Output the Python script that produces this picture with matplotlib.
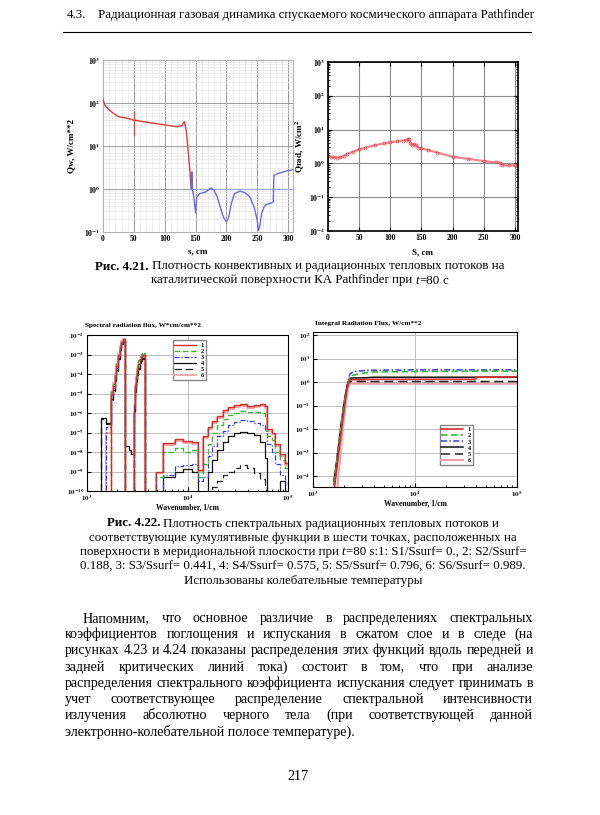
import matplotlib
matplotlib.use("Agg")
import numpy as np
import matplotlib.pyplot as plt
from matplotlib.lines import Line2D
from matplotlib.ticker import FixedLocator, NullFormatter, LogLocator

# --- PAGE GEOMETRY (pixels) ---
W_PX, H_PX = 600, 815
plt.rcParams['font.family'] = ['Liberation Serif', 'DejaVu Serif']
plt.rcParams['mathtext.fontset'] = 'stix'

# --- DATA: Fig 4.21 left, convective heat flux ---
s_conv = [0, 3, 8, 15, 25, 40, 50, 75, 100, 120, 128, 132, 135, 138, 141, 143]
qw_conv = [121, 89, 74, 60, 48, 44, 40, 35, 31, 28, 30, 37, 23, 8, 2.5, 1.05]
s_low = [143, 144, 145, 147, 150, 152, 157, 167, 175, 180, 185, 190, 195, 200, 204, 208, 213,
         222, 230, 238, 245, 250, 252, 254, 257, 261, 265, 273, 276, 277, 287, 298, 308]
qw_low = [1.0, 2.5, 0.93, 0.7, 0.28, 0.65, 0.78, 0.855, 1.06, 0.93, 0.66, 0.38, 0.224, 0.171, 0.224,
          0.457, 0.78, 0.887, 0.826, 0.655, 0.38, 0.187, 0.109, 0.131, 0.267, 0.38, 0.44, 0.474,
          0.5, 2.09, 2.37, 2.64, 2.83]
mark_s = 50
mark_range = [17, 65]
ref_level = 1.0
ref_from = 147

# --- DATA: Fig 4.21 right, radiative heat flux ---
s_rad = [0, 5, 10, 15, 20, 25, 30, 40, 50, 60, 75, 90, 100, 110, 120, 125, 128, 130, 132, 135,
         138, 142, 145, 150, 160, 175, 200, 225, 250, 270, 276, 280, 290, 300, 305]
q_rad = [1.64, 1.57, 1.5, 1.48, 1.5, 1.64, 1.88, 2.2, 2.58, 2.89, 3.46, 3.88, 4.25, 4.45, 4.75,
         4.86, 5.2, 5.1, 4.06, 3.55, 3.7, 3.4, 2.95, 2.76, 2.5, 2.1, 1.57, 1.37, 1.17, 1.07, 1.05,
         0.89, 0.87, 0.87, 0.93]

# --- DATA: Fig 4.22 left, spectral flux (log10), step histogram ---
F = -11  # below the axis floor
wn_spec = [1000, 1390, 1560, 1750, 1820, 1890, 1960, 2040, 2120, 2200, 2290, 2380, 2600, 2750,
           2920, 3000, 3080, 3160, 3240, 3330, 3420, 3520, 3620, 3760, 4900, 5740, 7500, 9100,
           11000, 12800, 14400, 16100, 17400, 19600, 22800, 25500, 28700, 33400, 39000, 45400,
           53000, 59400, 61700, 69200, 74800, 83800, 94000, 100000]
spec_1 = [F, F, F, -5.0, -4.6, -4.1, -3.6, -3.0, -2.6, -2.35, -2.2, F, F, F, -5.6, -4.6, -4.2,
          -3.8, -3.5, -3.3, -3.15, -3.1, -3.05, F, -9.0, -7.55, -7.35, -7.45, -7.5, -8.9, -7.2,
          -6.7, -6.4, -6.15, -5.85, -5.7, -5.6, -5.55, -5.65, -5.6, -5.55, -5.65, -6.8, -7.0,
          -7.6, -8.1, -8.55, -8.55]
spec_2 = [F, F, F, -4.9, -4.5, -4.0, -3.5, -3.0, -2.6, -2.35, -2.25, F, F, F, -5.4, -4.5, -4.0,
          -3.6, -3.3, -3.1, -2.95, -2.85, -2.9, F, -9.3, -8.0, -7.8, -8.0, -7.9, -9.3, -8.6,
          -7.6, -7.0, -6.6, -6.3, -6.1, -6.0, -5.9, -5.95, -5.95, -6.0, -6.2, -7.2, -7.4, -8.0,
          -8.4, -8.8, -8.8]
spec_3 = [F, F, -6.7, -5.1, -4.7, -4.2, -3.7, -3.1, -2.7, -2.4, -2.3, F, F, F, -5.8, -4.7, -4.2,
          -3.8, -3.5, -3.25, -3.1, -3.0, -3.0, F, F, -9.2, -8.7, -8.65, -8.6, -9.5, -9.3, -8.2,
          -7.7, -7.2, -6.9, -6.6, -6.45, -6.35, -6.4, -6.5, -6.6, -6.9, -7.6, -8.0, -8.6, -9.2,
          -9.6, -9.6]
spec_4 = [F, -6.27, -6.5, -5.3, -4.8, -4.3, -3.8, -3.2, -2.7, -2.45, -2.3, -7.7, -7.9, -8.1,
          -5.9, -4.9, -4.4, -4.0, -3.7, -3.45, -3.3, -3.2, -3.2, F, F, -9.3, -9.0, -8.85, -9.0,
          F, F, -9.0, -8.4, -7.9, -7.5, -7.2, -7.05, -6.95, -7.0, -7.15, -7.5, -8.3, F, F, F,
          -9.5, F, F]
spec_5 = [F, -6.3, -6.55, -5.35, -4.85, -4.35, -3.85, -3.25, -2.75, -2.5, -2.35, F, F, F, -6.0,
          -5.0, -4.5, -4.05, -3.75, -3.5, -3.35, -3.25, -3.25, F, F, F, F, F, F, F, F, F, -9.8,
          -9.5, -9.2, -9.0, -8.8, -8.65, -8.8, -9.1, -9.4, -9.8, F, F, F, F, F, F]
spec_6 = [F, F, -7.0, -4.85, -4.45, -4.0, -3.5, -2.95, -2.55, -2.3, -2.2, F, F, F, -6.0, -4.55,
          -4.15, -3.75, -3.45, -3.25, -3.1, -3.05, -3.05, F, -9.1, -7.65, -7.45, -7.55, -7.6,
          -9.0, -7.3, -6.8, -6.5, -6.25, -5.95, -5.8, -5.7, -5.65, -5.75, -5.7, -5.65, -5.75,
          -6.9, -7.1, -7.7, -8.2, -8.65, -8.65]

# --- DATA: Fig 4.22 right, cumulative flux ---
wn_cum = [1600, 1700, 1800, 1900, 2000, 2100, 2200, 2300, 2500, 3000, 3500, 4000, 10000, 39000,
          40000, 100000]
cum_1 = [2e-5, 1.5e-4, 1.2e-3, 9e-3, 0.05, 0.25, 0.8, 1.25, 1.25, 1.25, 1.28, 1.3, 1.3, 1.3, 1.6, 1.65]
cum_2 = [5e-5, 3e-4, 2.5e-3, 0.02, 0.1, 0.3, 0.9, 1.7, 2.0, 2.3, 2.6, 2.7, 2.8, 2.9, 2.9, 2.9]
cum_3 = [4e-5, 2.5e-4, 2e-3, 0.015, 0.08, 0.3, 1.0, 2.2, 2.8, 3.0, 3.2, 3.2, 3.3, 3.3, 3.3, 3.3]
cum_4 = [6e-5, 4e-4, 3e-3, 0.02, 0.1, 0.4, 1.0, 1.45, 1.5, 1.5, 1.55, 1.6, 1.6, 1.6, 1.6, 1.6]
cum_5 = [5e-5, 3e-4, 2.5e-3, 0.018, 0.09, 0.3, 0.8, 1.05, 1.05, 1.05, 1.05, 1.05, 1.05, 1.05, 1.05, 1.05]
cum_6 = [1e-6, 1e-5, 2e-4, 2e-3, 0.02, 0.12, 0.5, 0.85, 0.85, 0.85, 0.85, 0.85, 0.85, 0.85, 0.85, 0.85]
series_names = ['1', '2', '3', '4', '5', '6']

# line looks for the six points (pink drawn first so it sits behind)
LOOKS = {
    '1': dict(color='#d42a2a', ls='-', lw=1.0, z=6),
    '2': dict(color='#33bb33', ls=(0, (4, 2)), lw=1.0, z=5),
    '3': dict(color='#3a3ae0', ls=(0, (4, 1.5, 1, 1.5)), lw=0.9, z=4),
    '4': dict(color='#111111', ls='-', lw=0.9, z=3),
    '5': dict(color='#222222', ls=(0, (6, 3)), lw=0.9, z=2),
    '6': dict(color='#f2a0a8', ls='-', lw=1.3, z=1),
}

# --- HELPERS ---
fig = plt.figure(figsize=(W_PX / 100, H_PX / 100), dpi=100)
renderer = fig.canvas.get_renderer()

def fx(x): return x / W_PX
def fy(y): return 1 - y / H_PX
def box(x0, y0, x1, y1): return [fx(x0), fy(y1), (x1 - x0) / W_PX, (y1 - y0) / H_PX]

def dec_labels(exps):
    return [r'$\mathbf{10^{%d}}$' % e for e in exps]

BOLD = dict(fontweight='bold')
IT = dict(fontstyle='italic')

def place_line(words, y, size, x0=None, x1=None, center=None):
    # words: strings (may hold spaces) or lists of (text, style) glued together
    items = []
    for w in words:
        pieces = w if isinstance(w, list) else [(w, {})]
        items.append([fig.text(0, fy(y), s, fontsize=size, va='baseline', **st) for s, st in pieces])
    wid = [[a.get_window_extent(renderer=renderer).width for a in arts] for arts in items]
    total = sum(sum(ws) for ws in wid)
    if x1 is not None and len(items) > 1:
        gap = (x1 - x0 - total) / (len(items) - 1)
    else:
        gap = size * 100 / 72 * 0.25
    x = x0 if center is None else center - (total + gap * (len(items) - 1)) / 2
    for arts, ws in zip(items, wid):
        for a, w in zip(arts, ws):
            a.set_x(fx(x))
            x += w
        x += gap

def small_legend(ax, anchor):
    leg = ax.legend(loc='upper left', bbox_to_anchor=anchor, fontsize=4.5, handlelength=3.4,
                    labelspacing=0.12, borderpad=0.3, handletextpad=0.8, frameon=True,
                    fancybox=False, edgecolor='#888888', framealpha=1)
    for t in leg.get_texts():
        t.set_fontweight('bold')
    return leg

# --- HEADER ---
place_line(["4.3."], 18, 9.3, x0=67)
place_line(["Радиационная газовая динамика спускаемого космического аппарата Pathfinder"], 18, 9.3, x0=98)
fig.add_artist(Line2D([fx(63), fx(531)], [fy(31.5), fy(31.5)], color='black', lw=0.8))

# --- FIG 4.21 LEFT ---
ax1 = fig.add_axes(box(103, 60, 293, 232))
ax1.set_yscale('log')
ax1.plot(s_conv, qw_conv, color='#e03a3a', lw=1.0, zorder=4)
ax1.plot(s_low, qw_low, color='#6a6ae8', lw=1.0, zorder=4)
ax1.vlines(mark_s, mark_range[0], mark_range[1], color='#e03a3a', lw=0.9, zorder=4)
ax1.plot([ref_from, 308], [ref_level, ref_level], color='#9fa6ee', lw=0.9, zorder=3)
ax1.set_xlim(0, 308)
ax1.set_ylim(0.1, 1000)
ax1.set_xticks(range(0, 301, 50))
ax1.xaxis.set_minor_locator(FixedLocator(range(0, 309, 10)))
ax1.set_yticks([0.1, 1, 10, 100, 1000])
ax1.set_yticklabels(dec_labels([-1, 0, 1, 2, 3]))
ax1.yaxis.set_minor_locator(LogLocator(subs=np.arange(2, 10)))
ax1.yaxis.set_minor_formatter(NullFormatter())
ax1.grid(which='major', color='#9a9a9a', lw=0.7)
ax1.grid(which='minor', color='#e6e6e6', lw=0.5)
for sp in ax1.spines.values():
    sp.set_color('#b0b0b0')
ax1.tick_params(which='both', direction='in', length=0, labelsize=5.5, pad=2)
for lab in ax1.get_xticklabels():
    lab.set_fontweight('bold')
ax1.set_xlabel("s, cm", fontsize=6.5, fontweight='bold', labelpad=3)
ax1.set_ylabel("Qw, W/cm**2", fontsize=6.5, fontweight='bold', labelpad=6)

# --- FIG 4.21 RIGHT ---
ax2 = fig.add_axes(box(328, 62, 518, 231))
ax2.set_yscale('log')
ax2.plot(s_rad, q_rad, color='#e8707a', lw=1.6, alpha=0.85, marker='o', ms=2.2, mfc='none',
         mec='#e04a55', mew=0.6)
ax2.set_xlim(0, 305)
ax2.set_ylim(0.01, 1000)
ax2.set_xticks(range(0, 301, 50))
ax2.set_yticks([0.01, 0.1, 1, 10, 100, 1000])
ax2.set_yticklabels(dec_labels([-2, -1, 0, 1, 2, 3]))
ax2.yaxis.set_minor_formatter(NullFormatter())
ax2.grid(which='major', color='#8a8a8a', lw=0.8)
for sp in ax2.spines.values():
    sp.set_linewidth(1.2)
ax2.tick_params(which='major', direction='in', length=3, labelsize=5.5, pad=2,
                top=True, right=True)
ax2.tick_params(which='minor', direction='in', length=1.5, top=False, right=True)
for lab in ax2.get_xticklabels():
    lab.set_fontweight('bold')
ax2.set_xlabel("S, cm", fontsize=6.5, fontweight='bold', labelpad=5)
ax2.set_ylabel(r"Qrad, W/cm$^{\mathbf{2}}$", fontsize=6.5, fontweight='bold', labelpad=2)

# --- CAPTION 4.21 ---
CAP = 9.3
place_line([[("Рис. 4.21.", BOLD)], "Плотность конвективных и радиационных тепловых потоков на"],
           269.5, CAP, center=300)
place_line(["каталитической поверхности КА Pathfinder при", [("t", IT), ("=80", {})], "с"],
           283.5, CAP, center=300)

# --- FIG 4.22 LEFT ---
spec = {'1': spec_1, '2': spec_2, '3': spec_3, '4': spec_4, '5': spec_5, '6': spec_6}
ax3 = fig.add_axes(box(87, 335, 288, 491))
ax3.set_xscale('log')
ax3.set_yscale('log')
for name in series_names:
    lk = LOOKS[name]
    ax3.plot(wn_spec, 10.0 ** np.array(spec[name]), drawstyle='steps-post', color=lk['color'],
             ls=lk['ls'], lw=lk['lw'], zorder=lk['z'], label=name)
ax3.set_xlim(1e3, 1e5)
ax3.set_ylim(1e-10, 1e-2)
ax3.set_xticks([1e3, 1e4, 1e5])
ax3.set_xticklabels(dec_labels([3, 4, 5]))
ax3.set_yticks([10.0 ** e for e in range(-10, -1)])
ax3.set_yticklabels(dec_labels(range(-10, -1)))
ax3.xaxis.set_minor_formatter(NullFormatter())
ax3.yaxis.set_minor_locator(FixedLocator([]))
ax3.grid(which='major', color='#b4b4b4', lw=0.6)
ax3.tick_params(which='major', direction='in', length=3, labelsize=5, pad=2)
ax3.tick_params(which='minor', direction='in', length=1.5)
ax3.set_xlabel("Wavenumber, 1/cm", fontsize=5.5, fontweight='bold', labelpad=0)
small_legend(ax3, (0.41, 0.985))
fig.text(fx(85), fy(327), "Spectral radiation flux, W*cm/cm**2", fontsize=5.2, fontweight='bold')

# --- FIG 4.22 RIGHT ---
cum = {'1': cum_1, '2': cum_2, '3': cum_3, '4': cum_4, '5': cum_5, '6': cum_6}
ax4 = fig.add_axes(box(313, 332, 517, 487))
ax4.set_xscale('log')
ax4.set_yscale('log')
for name in series_names:
    lk = LOOKS[name]
    ax4.plot(wn_cum, cum[name], color=lk['color'], ls=lk['ls'], lw=lk['lw'] + 0.2,
             zorder=lk['z'], label=name)
ax4.set_xlim(1e3, 1e5)
ax4.set_ylim(3.4e-5, 1.35e2)
ax4.set_xticks([1e3, 1e4, 1e5])
ax4.set_xticklabels(dec_labels([3, 4, 5]))
ax4.set_yticks([10.0 ** e for e in range(-4, 3)])
ax4.set_yticklabels(dec_labels(range(-4, 3)))
ax4.xaxis.set_minor_formatter(NullFormatter())
ax4.yaxis.set_minor_locator(FixedLocator([]))
ax4.grid(which='major', color='#b4b4b4', lw=0.6)
ax4.tick_params(which='major', direction='in', length=3, labelsize=5, pad=2)
ax4.tick_params(which='minor', direction='in', length=1.5)
ax4.set_xlabel("Wavenumber, 1/cm", fontsize=5.5, fontweight='bold', labelpad=0)
small_legend(ax4, (0.605, 0.42))
fig.text(fx(315), fy(325), "Integral Radiation Flux, W/cm**2", fontsize=5.2, fontweight='bold')

# --- CAPTION 4.22 ---
cap2 = [
    [[("Рис. 4.22.", BOLD)], "Плотность спектральных радиационных тепловых потоков и"],
    ["соответствующие кумулятивные функции в шести точках, расположенных на"],
    ["поверхности в меридиональной плоскости при", [("t", IT), ("=80 s:1: S1/Ssurf= 0., 2: S2/Ssurf=", {})]],
    ["0.188, 3: S3/Ssurf= 0.441, 4: S4/Ssurf= 0.575, 5: S5/Ssurf= 0.796, 6: S6/Ssurf= 0.989."],
    ["Использованы колебательные температуры"],
]
for i, words in enumerate(cap2):
    place_line(words, 526.5 + i * 14.4, CAP, center=303)

# --- BODY TEXT (justified) ---
body = [
    "Напомним, что основное различие в распределениях спектральных",
    "коэффициентов поглощения и испускания в сжатом слое и в следе (на",
    "рисунках 4.23 и 4.24 показаны распределения этих функций вдоль передней и",
    "задней критических линий тока) состоит в том, что при анализе",
    "распределения спектрального коэффициента испускания следует принимать в",
    "учет соответствующее распределение спектральной интенсивности",
    "излучения абсолютно черного тела (при соответствующей данной",
    "электронно-колебательной полосе температуре).",
]
for i, line in enumerate(body):
    left = 83 if i == 0 else 65
    if i < len(body) - 1:
        place_line(line.split(), 622 + i * 16.2, 10.1, x0=left, x1=533)
    else:
        place_line([line], 622 + i * 16.2, 10.1, x0=left)

# --- PAGE NUMBER ---
place_line(["217"], 780, 10.2, center=298)

fig.savefig("out.png", dpi=100)
